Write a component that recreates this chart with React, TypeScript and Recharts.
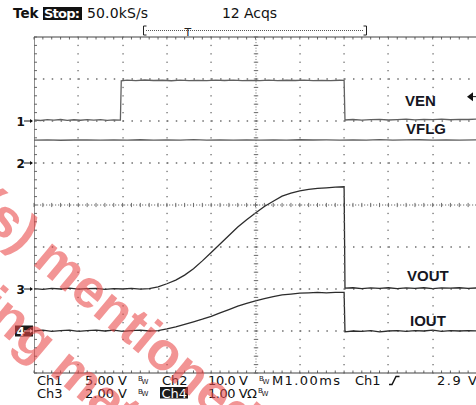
import { Line, LineChart, ReferenceDot, ReferenceLine, XAxis, YAxis } from "recharts";

const VEN: [number, number][] = [
  [0, 0.12], [0.15, 0.06], [0.3, 0.16], [0.45, 0.1], [0.6, 0.18], [0.75, 0.08], [0.9, 0.15], [1.05, 0.09],
  [1.2, 0.17], [1.35, 0.11], [1.5, 0.16], [1.65, 0.07], [1.8, 0.14], [1.95, 0.1], [1.97, 4.78], [2.1, 4.86],
  [2.3, 4.8], [2.5, 4.88], [2.7, 4.82], [2.9, 4.85], [3.1, 4.79], [3.3, 4.86], [3.5, 4.81], [3.7, 4.84],
  [3.9, 4.8], [4.1, 4.86], [4.3, 4.82], [4.5, 4.87], [4.7, 4.8], [4.9, 4.84], [5.1, 4.81], [5.3, 4.86],
  [5.5, 4.8], [5.7, 4.85], [5.9, 4.82], [6.1, 4.87], [6.3, 4.81], [6.5, 4.84], [6.7, 4.8], [6.9, 4.85],
  [7.0, 4.83], [7.02, 0.12], [7.2, 0.18], [7.4, 0.1], [7.6, 0.16], [7.8, 0.2], [8.0, 0.12], [8.2, 0.17],
  [8.4, 0.22], [8.6, 0.14], [8.8, 0.2], [9.0, 0.16], [9.2, 0.23], [9.4, 0.15], [9.6, 0.2], [9.8, 0.18], [10, 0.22],
];

const VFLG: [number, number][] = [
  [0, 5.45], [0.3, 5.5], [0.6, 5.42], [0.9, 5.48], [1.2, 5.52], [1.5, 5.44], [1.8, 5.5], [2.1, 5.46],
  [2.4, 5.53], [2.7, 5.45], [3.0, 5.5], [3.3, 5.47], [3.6, 5.55], [3.9, 5.46], [4.2, 5.5], [4.5, 5.44],
  [4.8, 5.52], [5.1, 5.47], [5.4, 5.5], [5.7, 5.45], [6.0, 5.53], [6.3, 5.48], [6.6, 5.5], [6.9, 5.46],
  [7.2, 5.52], [7.5, 5.47], [7.8, 5.55], [8.1, 5.46], [8.4, 5.5], [8.7, 5.53], [9.0, 5.45], [9.3, 5.5],
  [9.6, 5.47], [10, 5.5],
];

const VOUT: [number, number][] = [
  [0, 0.02], [0.2, -0.02], [0.4, 0.03], [0.6, 0], [0.8, 0.04], [1.0, -0.01], [1.2, 0.02], [1.4, 0.03],
  [1.6, -0.02], [1.8, 0.02], [2.0, 0], [2.2, 0.03], [2.4, -0.01], [2.6, 0.02], [2.8, 0.1], [3.0, 0.25],
  [3.2, 0.42], [3.4, 0.66], [3.6, 0.96], [3.8, 1.34], [4.0, 1.74], [4.2, 2.14], [4.4, 2.55], [4.6, 2.95],
  [4.8, 3.3], [5.0, 3.62], [5.2, 3.93], [5.4, 4.18], [5.6, 4.42], [5.8, 4.56], [6.0, 4.67], [6.2, 4.74],
  [6.4, 4.79], [6.6, 4.82], [6.8, 4.85], [7.0, 4.87], [7.02, 0.04], [7.2, 0.06], [7.4, 0.02], [7.6, 0.05],
  [7.8, 0.03], [8.0, 0.06], [8.2, 0.02], [8.4, 0.05], [8.6, 0.03], [8.8, 0.06], [9.0, 0.02], [9.2, 0.05],
  [9.4, 0.04], [9.6, 0.06], [9.8, 0.03], [10, 0.05],
];

const IOUT: [number, number][] = [
  [0, 0], [0.2, 0.02], [0.4, -0.01], [0.6, 0.01], [0.8, 0.02], [1.0, -0.01], [1.2, 0.01], [1.4, 0.02],
  [1.6, 0], [1.8, 0.02], [2.0, -0.01], [2.2, 0.01], [2.4, 0.02], [2.6, 0], [2.8, 0.01], [3.0, 0.05],
  [3.2, 0.1], [3.4, 0.16], [3.6, 0.22], [3.8, 0.28], [4.0, 0.35], [4.2, 0.43], [4.4, 0.51], [4.6, 0.59],
  [4.8, 0.66], [5.0, 0.72], [5.2, 0.77], [5.4, 0.82], [5.6, 0.86], [5.8, 0.88], [6.0, 0.9], [6.2, 0.91],
  [6.4, 0.92], [6.6, 0.91], [6.8, 0.92], [7.0, 0.92], [7.02, -0.02], [7.2, 0], [7.4, -0.01], [7.6, 0.01],
  [7.8, -0.02], [8.0, 0], [8.2, 0.01], [8.4, -0.01], [8.6, 0.01], [8.8, 0], [9.0, 0.02], [9.2, -0.01],
  [9.4, 0.01], [9.6, 0], [9.8, 0.01], [10, 0],
];

// scope settings: volts (or amps) per division and ground level in divisions from the bottom
const CH_SCALE = [5, 10, 2, 1];
const CH_GROUND = [6, 5, 2, 1];
const TRIGGER_LEVEL = 2.9;

const TRACES = [VEN, VFLG, VOUT, IOUT];
const TRACE_COLORS = ["#606060", "#606060", "#2c2c2c", "#2c2c2c"];

const MAJOR_X = [1, 2, 3, 4, 6, 7, 8, 9];
const MAJOR_Y = [1, 2, 3, 5, 6, 7];
const MINOR_X = Array.from({ length: 51 }, (_, i) => i * 0.2);
const MINOR_Y = Array.from({ length: 41 }, (_, i) => i * 0.2);
const FINE_Y = Array.from({ length: 121 }, (_, i) => (i * 8) / 120);

// screen geometry: 10 x 8 divisions
const PLOT_LEFT = 34;
const PLOT_TOP = 37;
const DIV_X = 44.3;
const DIV_Y = 42;
const CHART_W = 480;
const CHART_H = 405;
const gx = (t: number) => PLOT_LEFT + t * DIV_X;
const gy = (v: number) => PLOT_TOP + (8 - v) * DIV_Y;

const toRows = (trace: [number, number][], ch: number) =>
  trace.map(([t, v]) => ({ t, y: CH_GROUND[ch] + v / CH_SCALE[ch] }));

const FONT = "'DejaVu Sans', sans-serif";
const GRID = "#6e6e6e";

function ChannelMarker(props: any) {
  const { cx, cy, label, boxed } = props;
  const fg = boxed ? "#fff" : "#111";
  return (
    <g>
      {boxed && <rect x={cx - 19} y={cy - 5.5} width={18} height={11} fill="#1a1a1a" />}
      <text x={cx - 17.5} y={cy + 4.5} fontFamily={FONT} fontWeight="bold" fontSize={12} fill={fg}>
        {label}
      </text>
      <path d={`M${cx - 10} ${cy} H${cx - 2}`} stroke={fg} strokeWidth={1} />
      <path d={`M${cx - 1} ${cy} L${cx - 4} ${cy - 2} L${cx - 4} ${cy + 2} Z`} fill={fg} />
    </g>
  );
}

function TriggerMarker(props: any) {
  const { cx, cy } = props;
  return (
    <g>
      <path d={`M${cx - 10} ${cy} L${cx - 4} ${cy - 4.5} L${cx - 4} ${cy + 4.5} Z`} fill="#111" />
      <path d={`M${cx - 4} ${cy} H${cx}`} stroke="#111" strokeWidth={1} />
    </g>
  );
}

function BW({ x, y }: { x: number; y: number }) {
  return (
    <text x={x} y={y} fontFamily={FONT} fontSize={7} fill="#222">
      <tspan>B</tspan>
      <tspan dx={-1} dy={2.5}>W</tspan>
    </text>
  );
}

// vertical graticule as small rects (dotted columns, centre ladder, left border ticks)
function VerticalGraticule() {
  return (
    <g fill={GRID}>
      {MAJOR_X.map((t) =>
        MINOR_Y.map((v) => (
          <rect key={`v${t}-${v}`} x={Math.round(gx(t)) - 0.6} y={gy(v) - 0.6} width={1.3} height={1.3} />
        ))
      )}
      {FINE_Y.map((v) => (
        <rect key={`f${v}`} x={Math.round(gx(5)) - 0.5} y={gy(v) - 0.5} width={1} height={1} />
      ))}
      {MINOR_Y.map((v) => (
        <rect key={`c${v}`} x={Math.round(gx(5)) - 2.2} y={gy(v) - 0.5} width={4.4} height={1} />
      ))}
      {MINOR_Y.map((v) => (
        <rect key={`l${v}`} x={gx(0)} y={gy(v) - 0.5} width={3} height={1} fill="#666" />
      ))}
    </g>
  );
}

export default function App() {
  return (
    <div style={{ position: "absolute", left: 0, top: 0, width: 476, height: 405, overflow: "hidden", background: "#fff" }}>
      <LineChart
        width={CHART_W}
        height={CHART_H}
        margin={{
          top: PLOT_TOP,
          left: PLOT_LEFT,
          right: CHART_W - PLOT_LEFT - 10 * DIV_X,
          bottom: CHART_H - PLOT_TOP - 8 * DIV_Y,
        }}
      >
        <XAxis type="number" dataKey="t" domain={[0, 10]} hide allowDataOverflow />
        <YAxis type="number" dataKey="y" domain={[0, 8]} hide allowDataOverflow />

        {/* horizontal dotted graticule */}
        {MAJOR_Y.map((v) => (
          <ReferenceLine key={`gy${v}`} y={v} stroke={GRID} strokeWidth={1.5} strokeDasharray="1.5 7.36" />
        ))}
        <ReferenceLine y={4} stroke={GRID} strokeWidth={1.2} strokeDasharray="1.2 1.8" />
        {MINOR_X.map((t) => (
          <ReferenceLine key={`cx${t}`} segment={[{ x: t, y: 3.95 }, { x: t, y: 4.05 }]} stroke={GRID} />
        ))}
        {/* border ticks */}
        {MINOR_X.map((t) => (
          <ReferenceLine key={`tt${t}`} segment={[{ x: t, y: 8 }, { x: t, y: 7.94 }]} stroke="#666" />
        ))}
        {MINOR_X.map((t) => (
          <ReferenceLine key={`bt${t}`} segment={[{ x: t, y: 0 }, { x: t, y: 0.06 }]} stroke="#666" />
        ))}
        <ReferenceLine y={8} stroke="#444" strokeWidth={1.2} />
        <ReferenceLine y={0} stroke="#444" strokeWidth={1.2} />
        <Line
          data={[{ t: 0, y: 8 }, { t: 0, y: 0 }]}
          dataKey="y"
          dot={false}
          activeDot={false}
          stroke="#444"
          strokeWidth={1.2}
          isAnimationActive={false}
        />

        {TRACES.map((trace, ch) => (
          <Line
            key={`ch${ch + 1}`}
            data={toRows(trace, ch)}
            dataKey="y"
            type="linear"
            dot={false}
            stroke={TRACE_COLORS[ch]}
            strokeWidth={1.3}
            isAnimationActive={false}
          />
        ))}

        {CH_GROUND.map((g, ch) => (
          <ReferenceDot
            key={`m${ch}`}
            x={0}
            y={g}
            r={0}
            ifOverflow="visible"
            shape={(p: any) => <ChannelMarker {...p} label={String(ch + 1)} boxed={ch === 3} />}
          />
        ))}
        <ReferenceDot
          x={10}
          y={CH_GROUND[0] + TRIGGER_LEVEL / CH_SCALE[0]}
          r={0}
          ifOverflow="visible"
          shape={(p: any) => <TriggerMarker {...p} />}
        />
      </LineChart>

      <svg width={476} height={405} style={{ position: "absolute", left: 0, top: 0, pointerEvents: "none" }}>
        <VerticalGraticule />

        {/* header */}
        <text x={13} y={18} fontFamily={FONT} fontWeight="bold" fontSize={13.5} fill="#111">Tek</text>
        <rect x={43} y={7} width={39} height={13} fill="#111" />
        <text x={44} y={18} fontFamily={FONT} fontWeight="bold" fontSize={13} fill="#fff" textLength={36}>Stop:</text>
        <text x={87} y={18} fontFamily={FONT} fontSize={14} fill="#111" textLength={61}>50.0kS/s</text>
        <text x={222} y={18} fontFamily={FONT} fontSize={14} fill="#111" textLength={55}>12 Acqs</text>
        <path d="M146.5 26 H143.5 V35 H146.5" stroke="#222" fill="none" />
        <path d="M363.5 26 H366.5 V35 H363.5" stroke="#222" fill="none" />
        <path d="M146 30.5 H364" stroke="#555" strokeDasharray="1 1" />
        <text x={184.5} y={35.5} fontFamily={FONT} fontSize={11} fill="#222">T</text>

        {/* trace labels */}
        <g fontFamily="'Liberation Sans', Arial, sans-serif" fontWeight="bold" fontSize={15} fill="#161622">
          <text x={405} y={106}>VEN</text>
          <text x={406} y={134}>VFLG</text>
          <text x={407} y={281}>VOUT</text>
          <text x={410} y={326}>IOUT</text>
        </g>

        {/* footer */}
        <g fontFamily={FONT} fontSize={13} fill="#111">
          <text x={37} y={385}>Ch1</text>
          <text x={85} y={385} textLength={42}>5.00 V</text>
          <text x={162} y={385}>Ch2</text>
          <text x={208} y={385} textLength={40}>10.0 V</text>
          <text x={272} y={385} textLength={68}>M1.00ms</text>
          <text x={355} y={385}>Ch1</text>
          <text x={437} y={385} textLength={40}>2.9 V</text>
          <text x={37} y={397.5}>Ch3</text>
          <text x={85} y={397.5} textLength={42}>2.00 V</text>
          <rect x={160} y={387} width={28} height={11.5} fill="#1a1a1a" />
          <text x={161.5} y={397.5} fill="#fff">Ch4</text>
          <text x={208} y={397.5} textLength={49}>1.00 VΩ</text>
        </g>
        <BW x={138} y={381} />
        <BW x={259} y={381} />
        <BW x={138} y={393.5} />
        <BW x={258} y={393} />
        <path d="M389 384.5 H392 L396 376.5 H399.5" stroke="#111" strokeWidth={1.4} fill="none" />

        {/* watermark */}
        <g
          transform="rotate(40 31 263)"
          fontFamily="'Liberation Sans', Arial, sans-serif"
          fontWeight="bold"
          fontSize={54}
          fill="rgba(232, 70, 70, 0.58)"
        >
          <text x={17} y={263} textAnchor="end">Product(s)</text>
          <text x={31} y={263}>mentioned</text>
          <text x={100.7} y={336.3} textAnchor="end">including</text>
          <text x={114.7} y={336.3}>materials</text>
        </g>
      </svg>
    </div>
  );
}
